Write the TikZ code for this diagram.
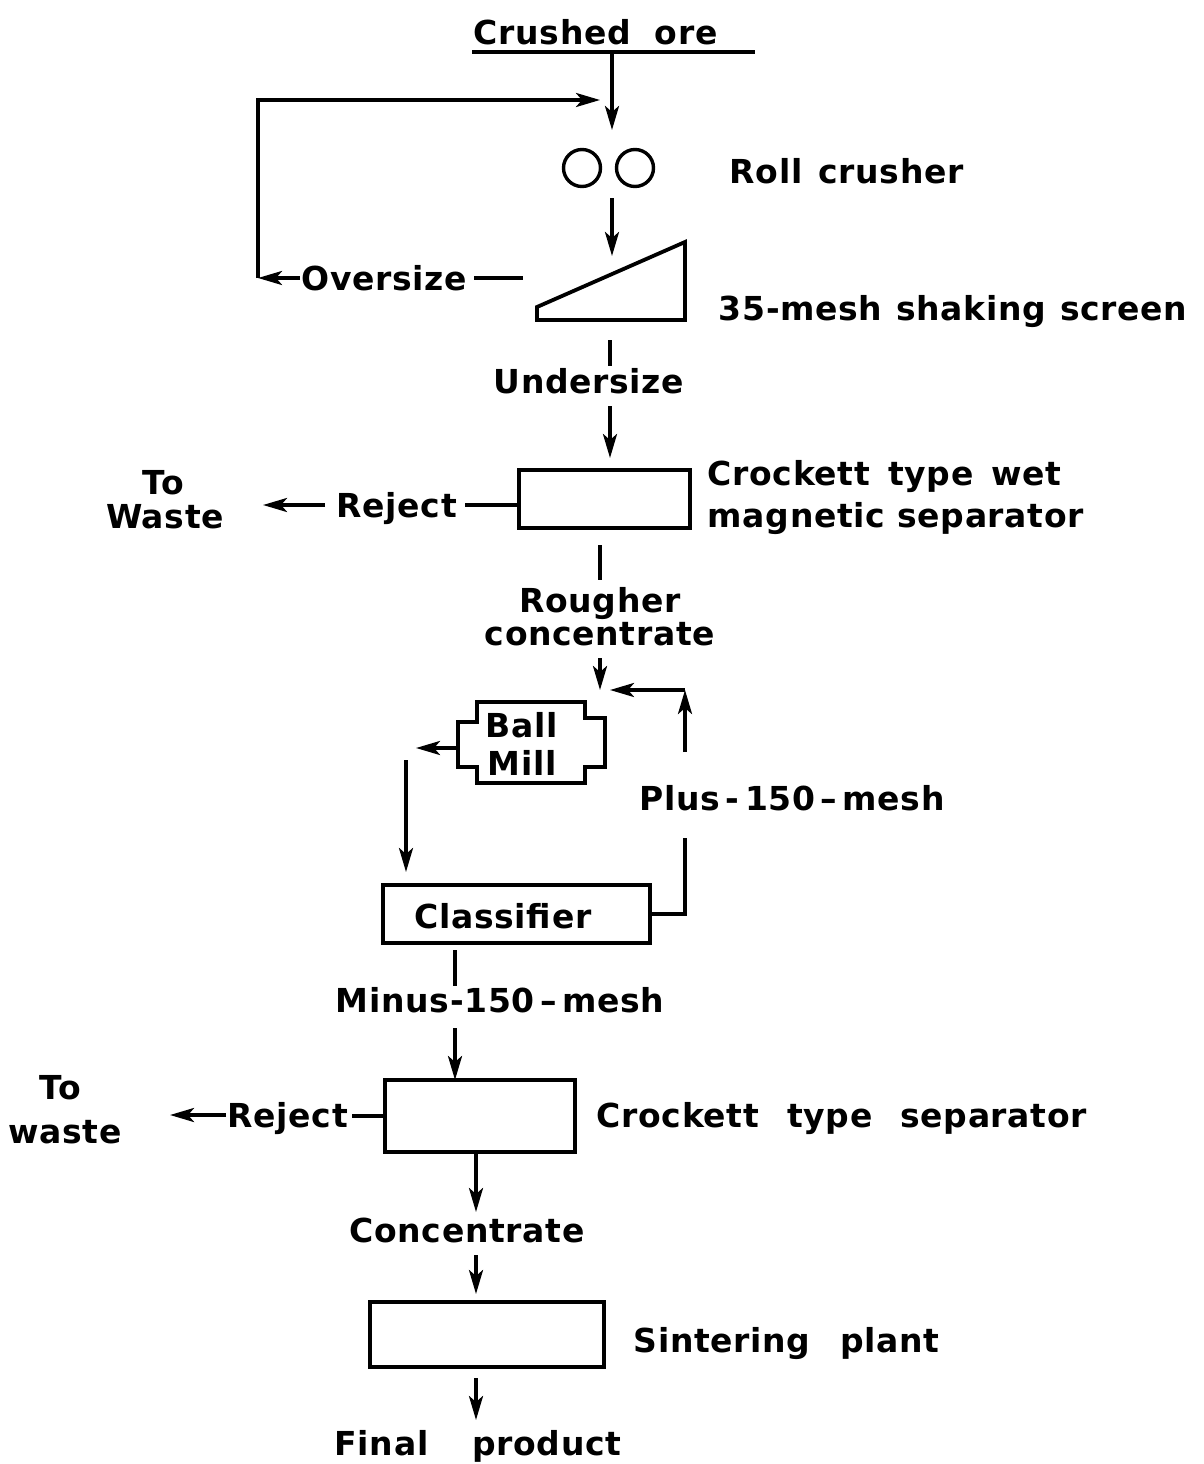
\documentclass[tikz,border=0pt]{standalone}
\usepackage{fontspec}
\setmainfont{DejaVu Sans}
\newfontfamily\lbfont{DejaVu Sans Bold}[LetterSpace=2]
\usetikzlibrary{arrows.meta}
\begin{document}
\begin{tikzpicture}[x=1pt,y=-1pt, line width=3.6pt,
  lbl/.style={inner sep=0pt, font=\lbfont\fontsize{33}{38}\selectfont},
  arr/.style={-{Stealth[length=24pt,width=14pt,inset=6pt]}},
  box/.style={draw, rectangle, inner sep=0pt, line width=3.8pt}]
\useasboundingbox (0,0) rectangle (1203,1464);

% ---- top: crushed ore
\node[lbl, anchor=base west] (crushed) at (472,45) {Crushed\hspace{24pt}ore};
\coordinate (ulL) at (472,52);
\coordinate (ulR) at (755,52);
\coordinate (feedtop) at (612,52);
\draw (ulL) -- (ulR);
\coordinate (feedbot) at (612,130);
\draw[arr] (feedtop) -- (feedbot);

% roll crusher
\node[draw, circle, minimum size=37pt, inner sep=0pt, line width=3.4pt] (rollA) at (582,168) {};
\node[draw, circle, minimum size=37pt, inner sep=0pt, line width=3.4pt] (rollB) at (635,168) {};
\node[lbl, anchor=base west] (rolllbl) at (728,183) {Roll\hspace{16pt}crusher};
\coordinate (rollout) at (612,198);
\coordinate (scrin) at (612,256);
\draw[arr] (rollout) -- (scrin);

% screen
\coordinate (s1) at (537,320);
\coordinate (s2) at (537,307);
\coordinate (s3) at (685,242);
\coordinate (s4) at (685,320);
\draw[line width=3.8pt, line join=miter] (s1) -- (s2) -- (s3) -- (s4) -- cycle;
\node[lbl, anchor=base west] (scrlbl) at (717,320) {35-mesh\hspace{14pt}shaking\hspace{14pt}screen};

% oversize return
\node[lbl, anchor=base west] (over) at (300,290) {Oversize};
\coordinate (overR) at (474,278);
\coordinate (overRR) at (523,278);
\draw (overR) -- (overRR);
\coordinate (retA) at (300,278);
\coordinate (retB) at (258,278);
\coordinate (retC) at (258,100);
\coordinate (retD) at (600,100);
\draw[arr] (retA) -- (retB);
\draw[arr] (retB) -- (retC) -- (retD);

% undersize
\coordinate (u1) at (610,340);
\coordinate (u2) at (610,366);
\draw (u1) -- (u2);
\node[lbl, anchor=base] (under) at (589,393) {Undersize};
\coordinate (u3) at (610,406);
\coordinate (u4) at (610,458);
\draw[arr] (u3) -- (u4);

% Crockett 1
\node[box, minimum width=171pt, minimum height=58pt] (cr1) at (604.5,499) {};
\node[lbl, anchor=base west] (cr1a) at (706,485) {Crockett\hspace{18pt}type\hspace{18pt}wet};
\node[lbl, anchor=base west] (cr1b) at (706,527) {magnetic\ separator};
\coordinate (rej1s) at (465,505);
\draw ([yshift=-6pt]cr1.west) -- (rej1s);
\node[lbl, anchor=base west] (rej1) at (335,517) {Reject};
\coordinate (rej1a) at (325,505);
\coordinate (rej1b) at (263,505);
\draw[arr] (rej1a) -- (rej1b);
\node[lbl, anchor=base] (to1) at (163,494) {To};
\node[lbl, anchor=base] (waste1) at (165,528) {Waste};

% rougher concentrate
\coordinate (r1) at (600,545);
\coordinate (r2) at (600,580);
\draw (r1) -- (r2);
\node[lbl, anchor=base] (roug) at (600,612) {Rougher};
\node[lbl, anchor=base] (conc1) at (600,645) {concentrate};
\coordinate (r3) at (600,658);
\coordinate (r4) at (600,690);
\draw[arr] (r3) -- (r4);

% ball mill
\draw[line width=3.6pt, line join=miter]
  (477,702) -- (585,702) -- (585,718) -- (605,718) -- (605,767) -- (585,767)
  -- (585,783) -- (477,783) -- (477,767) -- (458,767) -- (458,722) -- (477,722) -- cycle;
\node[lbl, anchor=base] (ball) at (522,737) {Ball};
\node[lbl, anchor=base] (mill) at (522,775) {Mill};
\coordinate (bmL) at (458,748);
\coordinate (bmLa) at (416,748);
\draw[arr] (bmL) -- (bmLa);
\coordinate (d1) at (406,760);
\coordinate (d2) at (406,872);
\draw[arr] (d1) -- (d2);

% classifier
\node[box, minimum width=267pt, minimum height=58pt] (cls) at (516.5,914) {};
\node[lbl, anchor=base] (clslbl) at (503,928) {Classifier};
\coordinate (p1) at (685,914);
\coordinate (p2) at (685,838);
\draw (cls.east) -- (p1) -- (p2);
\node[lbl, anchor=base west] (plus) at (638,810) {Plus\,-\,150\,–\,mesh};
\coordinate (p3) at (685,752);
\coordinate (p4) at (685,690);
\coordinate (p5) at (610,690);
\draw[arr] (p3) -- (p4);
\draw[arr] (p4) -- (p5);

% minus 150
\coordinate (m1) at (455,950);
\coordinate (m2) at (455,986);
\draw (m1) -- (m2);
\node[lbl, anchor=base] (minus) at (500,1012) {Minus-150\,–\,mesh};
\coordinate (m3) at (455,1028);
\coordinate (m4) at (455,1080);
\draw[arr] (m3) -- (m4);

% Crockett 2
\node[box, minimum width=190pt, minimum height=72pt] (cr2) at (480,1116) {};
\node[lbl, anchor=base west] (cr2lbl) at (595,1127) {Crockett\hspace{28pt}type\hspace{28pt}separator};
\coordinate (rej2s) at (352,1116);
\draw (cr2.west) -- (rej2s);
\node[lbl, anchor=base west] (rej2) at (226,1127) {Reject};
\coordinate (rej2a) at (226,1115);
\coordinate (rej2b) at (170,1115);
\draw[arr] (rej2a) -- (rej2b);
\node[lbl, anchor=base] (to2) at (60,1099) {To};
\node[lbl, anchor=base] (waste2) at (65,1143) {waste};

% concentrate
\coordinate (c1) at (476,1152);
\coordinate (c2) at (476,1212);
\draw[arr] (c1) -- (c2);
\node[lbl, anchor=base] (conc) at (467,1242) {Concentrate};
\coordinate (c3) at (476,1255);
\coordinate (c4) at (476,1294);
\draw[arr] (c3) -- (c4);

% sintering
\node[box, minimum width=234pt, minimum height=65pt] (sint) at (487,1334.5) {};
\node[lbl, anchor=base west] (sintlbl) at (632,1352) {Sintering\hspace{30pt}plant};
\coordinate (f1) at (476,1378);
\coordinate (f2) at (476,1420);
\draw[arr] (f1) -- (f2);
\node[lbl, anchor=base west] (final) at (333,1455) {Final\hspace{44pt}product};
\end{tikzpicture}
\end{document}
